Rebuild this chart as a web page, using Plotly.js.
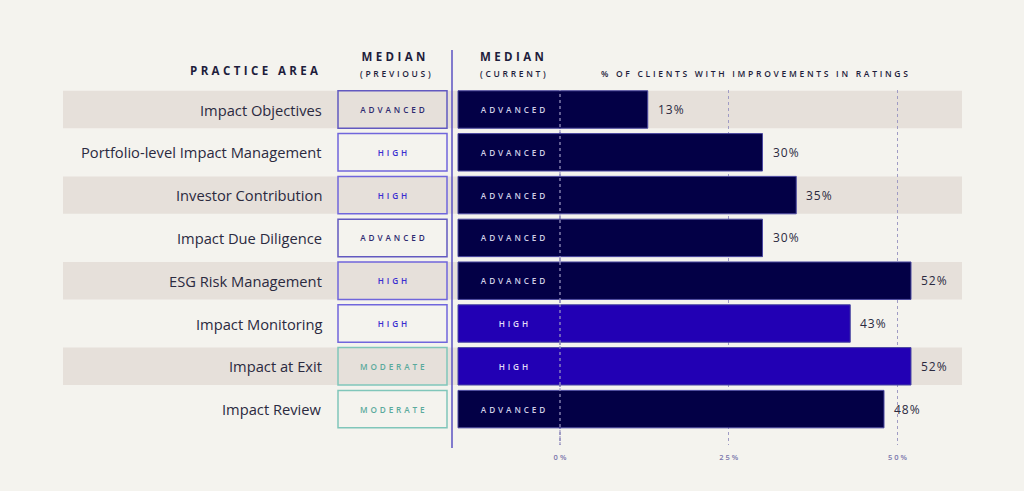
<!DOCTYPE html>
<html><head><meta charset="utf-8">
<script src="https://cdn.plot.ly/plotly-3.0.1.min.js"></script>
<style>html,body{margin:0;padding:0;background:#f4f3ee;} #chart{width:1024px;height:491px;}</style>
</head><body><div id="chart"></div>
<script>
// ---- data ----
const practiceAreas = ["Impact Objectives","Portfolio-level Impact Management","Investor Contribution","Impact Due Diligence","ESG Risk Management","Impact Monitoring","Impact at Exit","Impact Review"];
const medianPrevious = ["ADVANCED","HIGH","HIGH","ADVANCED","HIGH","HIGH","MODERATE","MODERATE"];
const medianCurrent = ["ADVANCED","ADVANCED","ADVANCED","ADVANCED","ADVANCED","HIGH","HIGH","ADVANCED"];
const pctImproved = [13,30,35,30,52,43,52,48];
const tickValues = [0,25,50];
const tickLabels = ["0%","25%","50%"];

// ---- style ----
const FONT = "Open Sans, sans-serif";
const BG = "#f4f3ee", STRIPE = "#e6e0da";
const GRID = "#9f9bc4";
const barColor = {ADVANCED:"#030046", HIGH:"#2200b4", MODERATE:"#2200b4"};
const barTextColor = {ADVANCED:"#cfcfe6", HIGH:"#e2def8", MODERATE:"#e2def8"};
const boxLine = {ADVANCED:"#6259c0", HIGH:"#7066dc", MODERATE:"#80c6ba"};
const boxText = {ADVANCED:"#2e2a70", HIGH:"#3a2ed0", MODERATE:"#5aaa9c"};
const W = 1024, PLOT_TOP = 90, PLOT_BOT = 445, PH = PLOT_BOT - PLOT_TOP;
const ZERO_PX = 560, PX_PER = 6.75;
const BAR_BASE = (458 - ZERO_PX) / PX_PER;
const BOX_X0 = 338, BOX_W = 109;
const py = p => (PLOT_BOT - p) / PH;

const traces = [
  { type:"bar", orientation:"h", xaxis:"x2", yaxis:"y",
    y: practiceAreas, x: practiceAreas.map(() => BOX_W), base: BOX_X0,
    marker:{color:"rgba(0,0,0,0)", line:{color: medianPrevious.map(c => boxLine[c]), width:1.5}},
    text: medianPrevious, textposition:"inside", insidetextanchor:"middle",
    textfont:{family:FONT, size:8.2, color: medianPrevious.map(c => boxText[c]), weight:600},
    hoverinfo:"skip" },
  { type:"bar", orientation:"h", xaxis:"x", yaxis:"y",
    y: practiceAreas, x: pctImproved.map(v => v - BAR_BASE), base: BAR_BASE,
    marker:{color: medianCurrent.map(c => barColor[c]), line:{color:"#4b48a0", width:1}},
    hoverinfo:"skip" }
];

const annotations = [];
const hdr = (text, x, y, size, anchor, weight) => annotations.push({
  text, xref:"paper", yref:"paper", x: x / W, y: py(y), xanchor: anchor, yanchor:"middle",
  showarrow:false, font:{family:FONT, size, color:"#1e1d3c", weight}});
hdr("PRACTICE AREA", 188, 70, 11.5, "left", 700);
hdr("MEDIAN", 393, 57, 11.5, "center", 700);
hdr("(PREVIOUS)", 395, 73, 8.5, "center", 600);
hdr("MEDIAN", 478, 57, 11.5, "left", 700);
hdr("(CURRENT)", 478, 73, 8.5, "left", 600);
hdr("% OF CLIENTS WITH IMPROVEMENTS IN RATINGS", 599, 73, 8.5, "left", 600);

practiceAreas.forEach((p, i) => {
  annotations.push({text:p, xref:"x2", yref:"y", x:324, y:p, xanchor:"right", yanchor:"middle",
    showarrow:false, font:{family:FONT, size:14.7, color:"#2b2a3f"}});
  annotations.push({text:medianCurrent[i], xref:"x2", yref:"y", x:513, y:p, xanchor:"center", yanchor:"middle",
    showarrow:false, font:{family:FONT, size:8.2, color:barTextColor[medianCurrent[i]], weight:600}});
  annotations.push({text:pctImproved[i] + "%", xref:"x", yref:"y", x:pctImproved[i], y:p, xanchor:"left", yanchor:"middle",
    xshift:8, showarrow:false, font:{family:FONT, size:12, color:"#2b2a3f", weight:500}});
});

const shapes = [];
practiceAreas.forEach((p, i) => {
  if (i % 2 === 0) shapes.push({type:"rect", xref:"x2", yref:"y", x0:63, x1:962, y0:i - 0.4375, y1:i + 0.4375,
    fillcolor:STRIPE, line:{width:0}, layer:"below"});
});
// 0% reference line drawn above the bars
shapes.push({type:"line", xref:"x", yref:"paper", x0:tickValues[0], x1:tickValues[0], y0:0, y1:1,
  line:{color:GRID, width:1.2, dash:"dot"}, layer:"above"});
shapes.push({type:"line", xref:"paper", yref:"paper", x0:452 / W, x1:452 / W, y0:py(448), y1:py(50),
  line:{color:"#5b52c2", width:1.5}});

const layout = {
  width:W, height:491, margin:{l:0, r:0, t:PLOT_TOP, b:491 - PLOT_BOT},
  paper_bgcolor:BG, plot_bgcolor:BG, showlegend:false, bargap:0.125,
  xaxis:{range:[-ZERO_PX / PX_PER, (W - ZERO_PX) / PX_PER], tickvals:tickValues, ticktext:tickLabels,
    showgrid:true, gridcolor:GRID, gridwidth:1.2, griddash:"dot", zeroline:false, showline:false,
    ticks:"", ticklabelstandoff:6, tickfont:{family:FONT, size:7.5, color:"#7a76ac", weight:600},
    layer:"below traces", fixedrange:true},
  xaxis2:{overlaying:"x", range:[0, W], visible:false, fixedrange:true},
  yaxis:{type:"category", categoryarray:practiceAreas, range:[(PLOT_BOT - 109.5) / 42.8, (PLOT_TOP - 109.5) / 42.8],
    visible:false, fixedrange:true},
  annotations, shapes
};

function spacingFor(s) {
  if (s === "MEDIAN" || s === "PRACTICE AREA") return 3.4;
  if (s.startsWith("(") || s.startsWith("% OF")) return 2.7;
  if (["ADVANCED","HIGH","MODERATE"].includes(s)) return 2.9;
  if (/^\d+%$/.test(s)) return 1;
  return 0;
}

Plotly.newPlot("chart", traces, layout, {displayModeBar:false, staticPlot:true}).then(gd => {
  gd.querySelectorAll("g.annotation").forEach(g => {
    const idx = +g.getAttribute("data-index");
    const anchor = annotations[idx] ? annotations[idx].xanchor : "center";
    const t = g.querySelector("text.annotation-text");
    if (!t) return;
    const ls = spacingFor(t.textContent.trim());
    if (!ls) return;
    const b0 = t.getBBox();
    t.style.letterSpacing = ls + "px";
    const b1 = t.getBBox();
    let dx;
    if (anchor === "left") dx = b0.x - b1.x;
    else if (anchor === "right") dx = (b0.x + b0.width) - (b1.x + b1.width - ls);
    else dx = (b0.x + b0.width / 2) - (b1.x + (b1.width - ls) / 2);
    t.setAttribute("transform", ((t.getAttribute("transform") || "") + " translate(" + dx + ",0)").trim());
  });
  gd.querySelectorAll(".bartext, .xtick text").forEach(t => {
    const s = t.textContent.trim();
    const ls = t.closest(".xtick") ? 2 : spacingFor(s);
    if (ls) { t.style.letterSpacing = ls + "px"; t.setAttribute("dx", ls / 2); }
  });
});
</script>
</body></html>
